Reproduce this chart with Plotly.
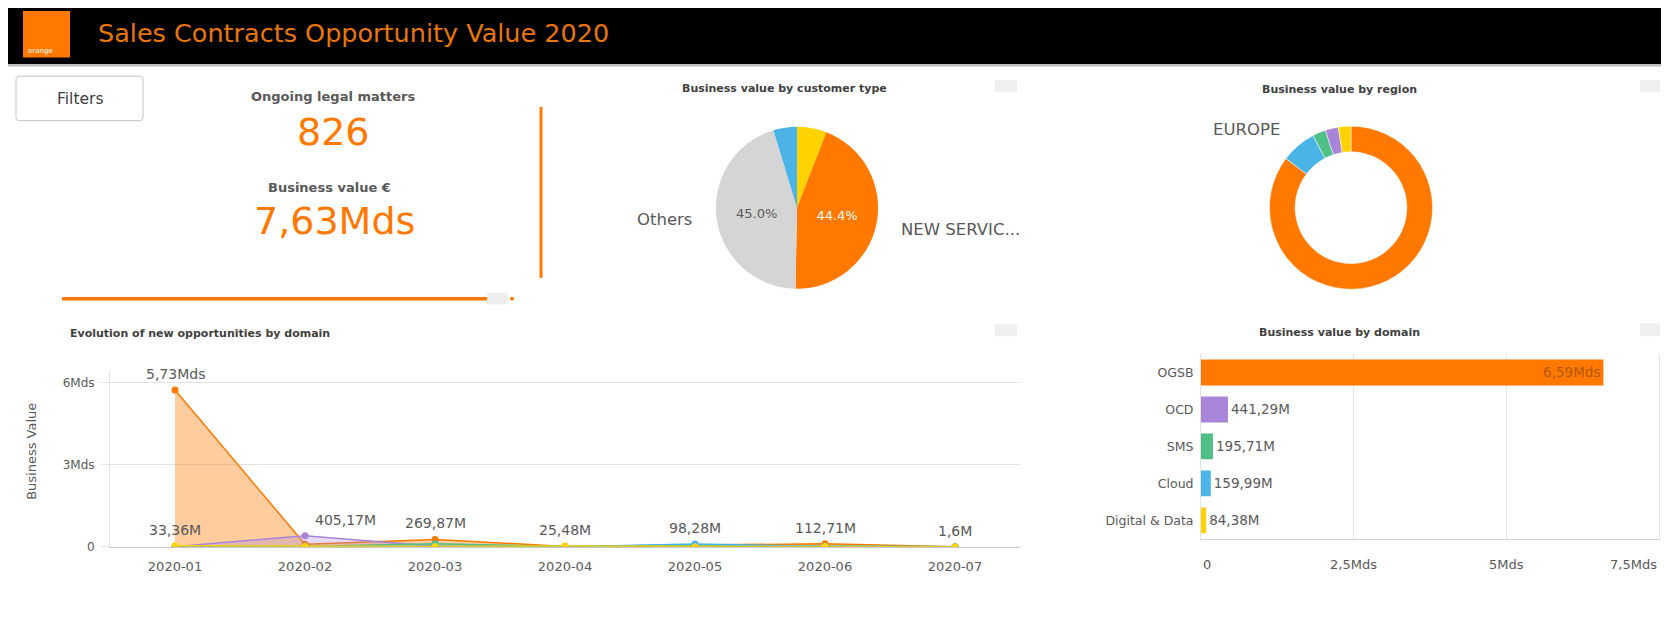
import plotly.graph_objects as go

W, H = 1669, 628                    # browser window
OFF = 8                             # default page body margin
FW, FH = W - 2 * OFF, H - 2 * OFF   # figure size so the page fits the window exactly

# ---------------- data ----------------
title_text = "Sales Contracts Opportunity Value 2020"
kpi_labels = ["Ongoing legal matters", "Business value €"]
kpi_values = ["826", "7,63Mds"]

cust_title = "Business value by customer type"
cust_labels = ["Customer type 4", "NEW SERVIC...", "Others", "Customer type 3"]
cust_values = [5.9, 44.4, 45.0, 4.7]
cust_colors = ["#FFD200", "#FF7900", "#D5D5D5", "#4BB4E6"]

region_title = "Business value by region"
region_labels = ["Region 1", "EUROPE", "Region 3", "Region 4", "Region 5"]
region_values = [85.3, 7.0, 2.6, 2.6, 2.5]
region_colors = ["#FF7900", "#4BB4E6", "#50BE87", "#A885D8", "#FFD200"]

line_title = "Evolution of new opportunities by domain"
months = ["2020-01", "2020-02", "2020-03", "2020-04", "2020-05", "2020-06", "2020-07"]
domains = ["OGSB", "OCD", "SMS", "Cloud", "Digital & Data"]
domain_colors = ["#FF7900", "#A885D8", "#50BE87", "#4BB4E6", "#FFD200"]
ogsb_monthly = [5.73e9, 90e6, 269.87e6, 12e6, 60e6, 112.71e6, 3e6]
ocd_monthly = [4.62e6, 405.17e6, 18e6, 6e6, 4e6, 3e6, 0.5e6]
sms_monthly = [3e6, 12e6, 110e6, 8e6, 45e6, 17.21e6, 0.5e6]
cloud_monthly = [6e6, 4e6, 25e6, 3e6, 98.28e6, 23.21e6, 0.5e6]
dd_monthly = [33.36e6, 8e6, 6e6, 25.48e6, 4e6, 5.94e6, 1.6e6]
line_y_ticks = [0, 3e9, 6e9]
line_y_ticktext = ["0", "3Mds", "6Mds"]
line_y_title = "Business Value"
labelled_points = [("OGSB", 0), ("Digital & Data", 0), ("OCD", 1), ("OGSB", 2),
                   ("Digital & Data", 3), ("Cloud", 4), ("OGSB", 5), ("Digital & Data", 6)]

bar_title = "Business value by domain"
bar_values = [6.59e9, 441.29e6, 195.71e6, 159.99e6, 84.38e6]
bar_x_ticks = [0, 2.5e9, 5e9, 7.5e9]
bar_x_ticktext = ["0", "2,5Mds", "5Mds", "7,5Mds"]

# ---------------- helpers ----------------
FONT = "DejaVu Sans"
GRAY = "#595959"
DARK = "#404040"
ORANGE = "#FF7900"
GRID = "#E3E3E3"


def px(x):
    return (x - OFF) / FW


def py(y):
    return 1 - (y - OFF) / FH


def fmt(v):
    if v >= 1e9:
        s = f"{v / 1e9:.2f}".rstrip("0").rstrip(".")
        return s.replace(".", ",") + "Mds"
    s = f"{v / 1e6:.2f}".rstrip("0").rstrip(".")
    return s.replace(".", ",") + "M"


def rgba(hexc, a):
    h = hexc.lstrip("#")
    r, g, b = int(h[0:2], 16), int(h[2:4], 16), int(h[4:6], 16)
    return f"rgba({r},{g},{b},{a})"


annotations = []
shapes = []


def ann(text, x, y, size, color=GRAY, xanchor="center", bold=False, **kw):
    annotations.append(dict(
        text=f"<b>{text}</b>" if bold else text, x=px(x), y=py(y), xref="paper", yref="paper",
        xanchor=xanchor, yanchor="middle", showarrow=False,
        font=dict(size=size, color=color, family=FONT), **kw))


def rect(x0, y0, x1, y1, fill, **kw):
    shapes.append(dict(type="rect", xref="paper", yref="paper", x0=px(x0), x1=px(x1), y0=py(y1), y1=py(y0),
                       fillcolor=fill, line=dict(width=0), **kw))


def hline(x0, x1, y, color, width):
    shapes.append(dict(type="line", xref="paper", yref="paper", x0=px(x0), x1=px(x1), y0=py(y), y1=py(y),
                       line=dict(color=color, width=width)))


series = dict(zip(domains, [ogsb_monthly, ocd_monthly, sms_monthly, cloud_monthly, dd_monthly]))

fig = go.Figure()

# ---------------- pie: customer type ----------------
tot = sum(cust_values)
cust_text = ["" if v / tot < 0.1 else f"{v / tot * 100:.1f}%" for v in cust_values]
fig.add_trace(go.Pie(
    labels=cust_labels, values=cust_values, sort=False, direction="clockwise", rotation=0,
    marker=dict(colors=cust_colors, line=dict(width=0)),
    text=cust_text, textinfo="text", textposition="inside", insidetextorientation="horizontal",
    textfont=dict(size=13, family=FONT, color=["#FFFFFF", "#FFFFFF", GRAY, "#FFFFFF"]),
    domain=dict(x=[px(715), px(879)], y=[py(292), py(128)]),
    showlegend=False, hoverinfo="label+percent",
))

# ---------------- donut: region ----------------
fig.add_trace(go.Pie(
    labels=region_labels, values=region_values, sort=False, direction="clockwise", rotation=0,
    hole=0.685, marker=dict(colors=region_colors, line=dict(color="white", width=0.5)),
    textinfo="none", domain=dict(x=[px(1268.5), px(1433.5)], y=[py(292.5), py(127.5)]),
    showlegend=False, hoverinfo="label+percent",
))

# ---------------- line / area chart ----------------
for dom, col in zip(domains, domain_colors):
    fig.add_trace(go.Scatter(
        x=months, y=series[dom], name=dom, mode="lines+markers",
        line=dict(color=col, width=1.5), marker=dict(color=col, size=7),
        fill="tozeroy", fillcolor=rgba(col, 0.38 if dom == "OGSB" else 0.3),
        xaxis="x", yaxis="y", showlegend=False,
    ))

# ---------------- bar chart ----------------
fig.add_trace(go.Bar(
    x=bar_values, y=domains, orientation="h", marker=dict(color=domain_colors, line=dict(width=0)),
    width=0.7, text=[fmt(v) for v in bar_values],
    textposition=["inside", "outside", "outside", "outside", "outside"],
    insidetextanchor="end", textfont=dict(size=13.5, family=FONT),
    insidetextfont=dict(size=13.5, family=FONT, color="#B35800"),
    outsidetextfont=dict(size=13.5, family=FONT, color=GRAY),
    cliponaxis=False, xaxis="x2", yaxis="y2", showlegend=False,
))

# header
rect(OFF, 6, W, 65, "#000000", layer="below")
hline(OFF, W, 66.5, "#BBBBBB", 1.5)
rect(23, 11, 70, 58, ORANGE)
ann("orange", 26, 52, 7, color="white", xanchor="left")
ann(title_text, 96, 33, 25.5, color="#E8760A", xanchor="left")

# filters button
r = 4
x0, x1, y0, y1 = 16, 143, 77, 122
pts = [("M", x0 + r, y0), ("L", x1 - r, y0), ("Q", x1, y0), ("", x1, y0 + r), ("L", x1, y1 - r),
       ("Q", x1, y1), ("", x1 - r, y1), ("L", x0 + r, y1), ("Q", x0, y1), ("", x0, y1 - r),
       ("L", x0, y0 + r), ("Q", x0, y0), ("", x0 + r, y0)]
path = " ".join(f"{c} {px(a)},{py(b)}".strip() for c, a, b in pts) + " Z"
shapes.append(dict(type="path", xref="paper", yref="paper", path=path,
                   line=dict(color="#CFCFCF", width=1.2), fillcolor="white"))
ann("Filters", 79.5, 100, 15.5, color=DARK)

# KPIs
ann(kpi_labels[0], 333, 98, 13, bold=True)
ann(kpi_values[0], 333, 133, 38, color=ORANGE)
ann(kpi_labels[1], 329, 190, 13, bold=True)
ann(kpi_values[1], 334, 223, 38, color=ORANGE)
shapes.append(dict(type="line", xref="paper", yref="paper", x0=px(541), x1=px(541), y0=py(108), y1=py(281),
                   line=dict(color=ORANGE, width=3)))
hline(62, 487, 302, ORANGE, 3.5)
rect(487, 296, 508, 308, "#EEEEEE")
shapes.append(dict(type="circle", xref="paper", yref="paper", x0=px(510), x1=px(514), y0=py(304), y1=py(300),
                   fillcolor=ORANGE, line=dict(width=0)))

# small menu icons
for (ix0, iy0, ix1, iy1) in [(995, 81, 1017, 93), (1640, 81, 1660, 93), (995, 328, 1017, 340), (1640, 327, 1660, 340)]:
    rect(ix0, iy0, ix1, iy1, "#EFEFEF")

# chart titles
ann(cust_title, 784, 89, 11, color=DARK, bold=True)
ann(region_title, 1339, 90, 11, color=DARK, bold=True)
ann(line_title, 68, 337, 11, color=DARK, bold=True, xanchor="left")
ann(bar_title, 1339, 336, 11, color=DARK, bold=True)

# pie outside labels
ann(cust_labels[2], 664, 222, 16.5)
ann(cust_labels[1], 899, 232, 16.5, xanchor="left")
ann(region_labels[1], 1282, 131, 16.5, xanchor="right")

# y axis title of line chart
ann(line_y_title, 32, 457, 13, textangle=-90)

# line chart point labels
xshifts = {("OCD", 1): 40}
for dom, i in labelled_points:
    annotations.append(dict(text=fmt(series[dom][i]), x=months[i], y=series[dom][i], xref="x", yref="y",
                            xanchor="center", yanchor="middle",
                            showarrow=False, yshift=16, xshift=xshifts.get((dom, i), 0),
                            font=dict(size=14, color=GRAY, family=FONT)))

# bar x tick labels
for v, t, anc in zip(bar_x_ticks, bar_x_ticktext, ["left", "center", "center", "right"]):
    annotations.append(dict(text=t, x=v, y=py(571), xref="x2", yref="paper", xanchor=anc, yanchor="middle",
                            showarrow=False, font=dict(size=13, color=GRAY, family=FONT)))

fig.update_layout(
    width=FW, height=FH, margin=dict(l=0, r=0, t=0, b=0),
    paper_bgcolor="white", plot_bgcolor="white",
    font=dict(family=FONT, color=GRAY),
    showlegend=False,
    xaxis=dict(domain=[px(110), px(1020)], anchor="y", type="category", range=[-0.5, 6.5],
               showgrid=False, showline=True, linecolor="#C8C8C8", linewidth=1.2,
               ticks="outside", ticklen=8, tickcolor="rgba(0,0,0,0)",
               tickfont=dict(size=13, color=GRAY, family=FONT), zeroline=False),
    yaxis=dict(domain=[py(553), py(375)], anchor="x", range=[0, 6.434e9],
               tickvals=line_y_ticks, ticktext=line_y_ticktext, showgrid=True, gridcolor=GRID,
               zeroline=False, showline=True, linecolor=GRID, linewidth=1,
               ticks="outside", ticklen=8, tickcolor=GRID, ticklabelstandoff=4,
               tickfont=dict(size=12, color=GRAY, family=FONT)),
    xaxis2=dict(domain=[px(1201), px(1659)], anchor="y2", range=[0, 7.5e9], tickvals=bar_x_ticks,
                showticklabels=False, showgrid=True, gridcolor=GRID, zeroline=False,
                showline=True, linecolor="#D0D0D0", linewidth=1.2),
    yaxis2=dict(domain=[py(545), py(358)], anchor="x2", type="category", categoryorder="array",
                categoryarray=domains, range=[4.5, -0.5], showgrid=False, zeroline=False,
                showline=True, mirror=True, linecolor=GRID, linewidth=1,
                ticks="outside", ticklen=4, tickcolor="rgba(0,0,0,0)",
                tickfont=dict(size=12.5, color=GRAY, family=FONT)),
    shapes=shapes, annotations=annotations,
)

fig.write_html("out.html")
